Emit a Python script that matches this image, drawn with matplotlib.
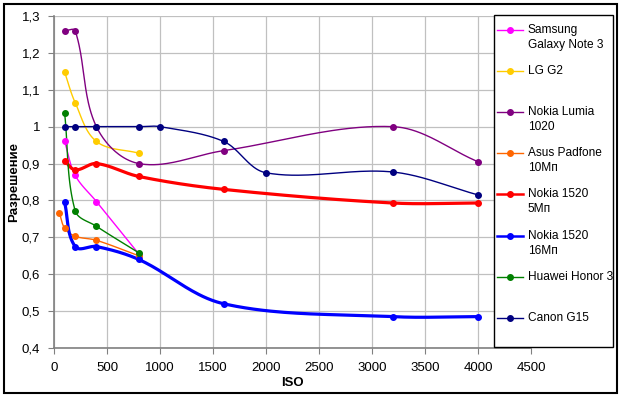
import numpy as np
import matplotlib
matplotlib.use("Agg")
import matplotlib.pyplot as plt
from matplotlib.lines import Line2D
from matplotlib.patches import Rectangle

plt.rcParams['font.family'] = ['Liberation Sans', 'DejaVu Sans']

labels = ["Samsung\nGalaxy Note 3", "LG G2", "Nokia Lumia\n1020", "Asus Padfone\n10Мп",
          "Nokia 1520\n5Мп", "Nokia 1520\n16Мп", "Huawei Honor 3", "Canon G15"]
colors = ["#ff00ff", "#ffcc00", "#800080", "#ff6600", "#ff0000", "#0000ff", "#008000", "#000080"]
widths = [1.0, 1.0, 1.0, 1.0, 2.3, 2.3, 1.0, 1.0]

samsung_x = [100, 200, 400, 800]
samsung_y = [0.96, 0.868, 0.797, 0.655]
lg_x = [100, 200, 400, 800]
lg_y = [1.148, 1.065, 0.96, 0.928]
lumia_x = [100, 200, 400, 800, 1600, 3200, 4000]
lumia_y = [1.26, 1.26, 1.0, 0.9, 0.935, 1.0, 0.905]
asus_x = [50, 100, 200, 400, 800]
asus_y = [0.767, 0.725, 0.703, 0.692, 0.65]
n5_x = [100, 200, 400, 800, 1600, 3200, 4000]
n5_y = [0.908, 0.883, 0.9, 0.865, 0.83, 0.793, 0.793]
n16_x = [100, 200, 400, 800, 1600, 3200, 4000]
n16_y = [0.795, 0.675, 0.675, 0.64, 0.52, 0.485, 0.485]
huawei_x = [100, 200, 400, 800]
huawei_y = [1.037, 0.772, 0.73, 0.658]
canon_x = [100, 200, 400, 800, 1000, 1600, 2000, 3200, 4000]
canon_y = [1.0, 1.0, 1.0, 1.0, 1.0, 0.96, 0.875, 0.877, 0.815]

series = [(samsung_x, samsung_y), (lg_x, lg_y), (lumia_x, lumia_y), (asus_x, asus_y),
          (n5_x, n5_y), (n16_x, n16_y), (huawei_x, huawei_y), (canon_x, canon_y)]

x_ticks = [0, 500, 1000, 1500, 2000, 2500, 3000, 3500, 4000, 4500]
y_ticks = [0.4, 0.5, 0.6, 0.7, 0.8, 0.9, 1.0, 1.1, 1.2, 1.3]

XMAX, YMIN, YMAX = 4500, 0.4, 1.3
W, H = 620, 397
AX_L, AX_R, AX_T, AX_B = 54, 531, 16, 348
SX = (AX_R - AX_L) / XMAX
SY = (AX_B - AX_T) / (YMAX - YMIN)


def smooth(xs, ys, n=40):
    # Bezier smoothing in pixel space, tangent length proportional to segment length
    x = np.asarray(xs, float) * SX
    y = np.asarray(ys, float) * SY
    P = np.column_stack([x, y])
    m = len(P)
    if m < 3:
        return np.asarray(xs, float), np.asarray(ys, float)
    tang = np.zeros_like(P)
    for i in range(m):
        a = P[max(i - 1, 0)]
        b = P[min(i + 1, m - 1)]
        d = b - a
        nd = np.hypot(*d)
        tang[i] = d / nd if nd > 0 else 0
    t = np.linspace(0, 1, n)[:, None]
    out = []
    for i in range(m - 1):
        p0, p3 = P[i], P[i + 1]
        L = np.hypot(*(p3 - p0))
        p1 = p0 + tang[i] * L / 3
        p2 = p3 - tang[i + 1] * L / 3
        b = (1 - t) ** 3 * p0 + 3 * (1 - t) ** 2 * t * p1 + 3 * (1 - t) * t ** 2 * p2 + t ** 3 * p3
        out.append(b)
    out = np.vstack(out)
    return out[:, 0] / SX, out[:, 1] / SY


fig = plt.figure(figsize=(6.2, 3.97), dpi=100)
ax = fig.add_axes([AX_L / W, 1 - AX_B / H, (AX_R - AX_L) / W, (AX_B - AX_T) / H])

for (xs, ys), c, lw in zip(series, colors, widths):
    sx, sy = smooth(xs, ys)
    ax.plot(sx, sy, color=c, lw=lw, zorder=3, solid_capstyle='round')
    ax.plot(xs, ys, 'o', color=c, ms=4, zorder=4)

ax.set_xlim(0, XMAX)
ax.set_ylim(YMIN, YMAX)
ax.set_xticks(x_ticks)
ax.set_yticks(y_ticks)
ax.set_yticklabels([("%g" % v).replace('.', ',') for v in y_ticks])
ax.grid(True, color='#c0c0c0', lw=0.9)
ax.set_axisbelow(True)
for s in ['top', 'right']:
    ax.spines[s].set_visible(False)
for s in ['left', 'bottom']:
    ax.spines[s].set_color('#808080')
    ax.spines[s].set_linewidth(1.2)
ax.tick_params(direction='out', length=4, color='#808080', labelsize=9.5, pad=6)
ax.set_xlabel("ISO", fontsize=9.5, fontweight='bold', labelpad=2)
ax.set_ylabel("Разрешение", fontsize=9.5, fontweight='bold')
ax.yaxis.set_label_coords(-0.072, 0.5)

# legend box
fig.add_artist(Rectangle((494 / W, 1 - 347 / H), (613 - 494) / W, (347 - 15) / H,
                         transform=fig.transFigure, facecolor='white', edgecolor='black', lw=1.0))
slots = [30, 71, 112, 153, 194, 236, 277, 318]
for lab, c, lw, yy in zip(labels, colors, widths, slots):
    yf = 1 - yy / H
    fig.add_artist(Line2D([497 / W, 523 / W], [yf, yf], color=c, lw=min(lw, 1.8),
                          transform=fig.transFigure))
    fig.add_artist(Line2D([510 / W], [yf], marker='o', ms=4, color=c,
                          transform=fig.transFigure))
    fig.text(528 / W, yf + 6 / H, lab, fontsize=8.6, va='top', ha='left', linespacing=1.3)

# outer border
fig.add_artist(Rectangle((4 / W, 4 / H), (617 - 4) / W, (393 - 4) / H, transform=fig.transFigure,
                         facecolor='none', edgecolor='black', lw=1.5))

fig.savefig("out.png", dpi=100)
